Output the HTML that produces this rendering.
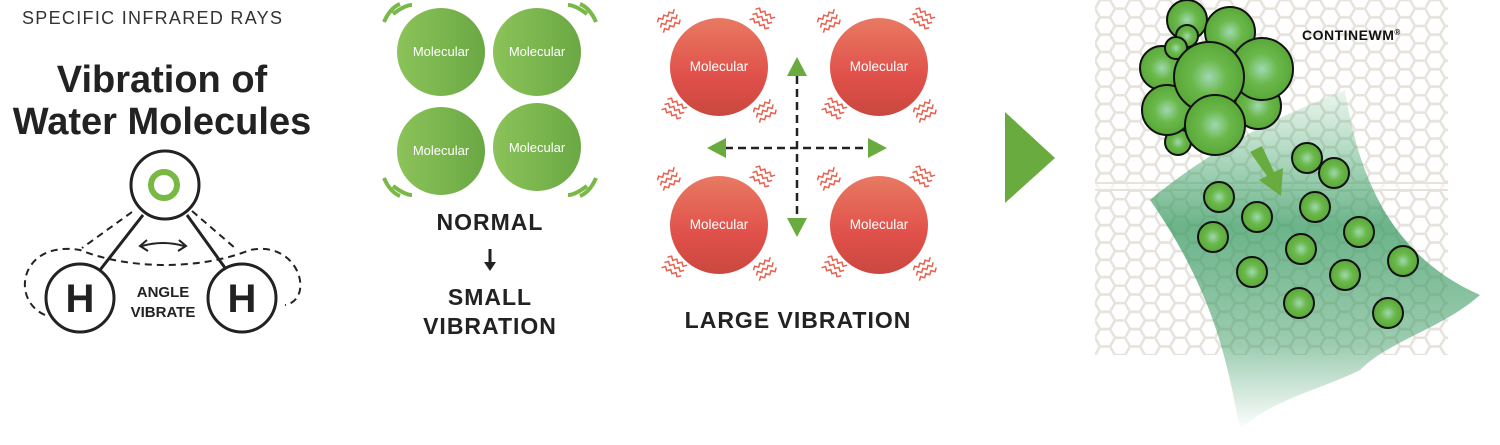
<!DOCTYPE html>
<html><head><meta charset="utf-8"><style>
html,body{margin:0;padding:0;background:#fff;}
svg{display:block;font-family:"Liberation Sans",sans-serif;}
</style></head><body>
<svg width="1500" height="445" viewBox="0 0 1500 445" xmlns="http://www.w3.org/2000/svg">
<defs>
<pattern id="hex" width="30" height="17.32" patternUnits="userSpaceOnUse" x="1095" y="0">
<g fill="none" stroke="#e6e3dc" stroke-width="2.6">
<path d="M0,8.66 L5,0 L15,0 L20,8.66 L15,17.32 L5,17.32 Z"/>
<path d="M20,8.66 L30,8.66"/>
<path d="M15,0 L20,-8.66 M15,17.32 L20,26"/>
</g>
</pattern>
<linearGradient id="gg" x1="0" x2="1" y1="0" y2="0"><stop offset="0" stop-color="#8cc35a"/><stop offset="1" stop-color="#6aa843"/></linearGradient>
<linearGradient id="rg" x1="0" x2="0" y1="0" y2="1"><stop offset="0" stop-color="#e87a62"/><stop offset="0.6" stop-color="#e0504a"/><stop offset="1" stop-color="#c9483f"/></linearGradient>
<radialGradient id="bg" cx="0.5" cy="0.5" r="0.5"><stop offset="0" stop-color="#9fd8b0"/><stop offset="0.5" stop-color="#6ab84a"/><stop offset="1" stop-color="#58a838"/></radialGradient>
<linearGradient id="sw" x1="0" y1="0" x2="0" y2="1"><stop offset="0" stop-color="#3da86a" stop-opacity="0.1"/><stop offset="0.4" stop-color="#3a9a62" stop-opacity="0.75"/><stop offset="0.75" stop-color="#3a9a62" stop-opacity="0.5"/><stop offset="1" stop-color="#3a9a62" stop-opacity="0"/></linearGradient>
<g id="zz" fill="none" stroke="#e8604e" stroke-width="1.5">
<path d="M-11,-6 l3,-3 l3,3 l3,-3 l3,3 l3,-3 l3,3 l3,-3"/>
<path d="M-11,0 l3,-3 l3,3 l3,-3 l3,3 l3,-3 l3,3 l3,-3"/>
<path d="M-11,6 l3,-3 l3,3 l3,-3 l3,3 l3,-3 l3,3 l3,-3"/>
</g>
</defs>

<!-- LEFT -->
<text x="22" y="24" font-size="18" fill="#333" letter-spacing="1.3">SPECIFIC INFRARED RAYS</text>
<text x="162" y="92" font-size="38" font-weight="bold" fill="#222" text-anchor="middle">Vibration of</text>
<text x="162" y="134" font-size="38" font-weight="bold" fill="#222" text-anchor="middle">Water Molecules</text>
<g fill="none" stroke="#222" stroke-width="2" stroke-dasharray="7,5">
<path d="M132,212 L82,248"/><path d="M192,211 L235,248"/>
<path d="M45,315 C10,300 20,240 80,250 C130,270 200,270 250,250 C300,240 315,300 285,305"/>
</g>
<line x1="143" y1="215" x2="100" y2="270" stroke="#222" stroke-width="3"/>
<line x1="187" y1="215" x2="228" y2="272" stroke="#222" stroke-width="3"/>
<path d="M142,246 Q163,240 184,246" fill="none" stroke="#222" stroke-width="2"/>
<path d="M147,240 L140,246 L148,251 M179,240 L186,246 L178,251" fill="none" stroke="#222" stroke-width="2"/>
<circle cx="165" cy="185" r="34" fill="#fff" stroke="#222" stroke-width="3"/>
<circle cx="164" cy="185" r="13" fill="none" stroke="#78b843" stroke-width="6"/>
<circle cx="80" cy="298" r="34" fill="#fff" stroke="#222" stroke-width="3"/>
<circle cx="242" cy="298" r="34" fill="#fff" stroke="#222" stroke-width="3"/>
<text x="80" y="312" font-size="40" font-weight="bold" fill="#222" text-anchor="middle">H</text>
<text x="242" y="312" font-size="40" font-weight="bold" fill="#222" text-anchor="middle">H</text>
<text x="163" y="297" font-size="15" font-weight="bold" fill="#222" text-anchor="middle">ANGLE</text>
<text x="163" y="317" font-size="15" font-weight="bold" fill="#222" text-anchor="middle">VIBRATE</text>

<!-- GREEN -->
<g fill="url(#gg)">
<circle cx="441" cy="52" r="44"/><circle cx="537" cy="52" r="44"/>
<circle cx="441" cy="151" r="44"/><circle cx="537" cy="147" r="44"/>
</g>
<g fill="#fff" font-size="13" text-anchor="middle">
<text x="441" y="56">Molecular</text><text x="537" y="56">Molecular</text>
<text x="441" y="155">Molecular</text><text x="537" y="152">Molecular</text>
</g>
<g fill="none" stroke="#7ab848" stroke-width="4">
<path d="M384,22 Q390,8 400,4"/><path d="M393,14 Q405,5 412,5"/>
<path d="M596,22 Q590,8 580,4"/><path d="M587,14 Q575,5 568,5"/>
<path d="M384,178 Q390,192 400,196"/><path d="M393,186 Q405,195 412,195"/>
<path d="M596,178 Q590,192 580,196"/><path d="M587,186 Q575,195 568,195"/>
</g>
<g font-size="23" font-weight="bold" fill="#222" text-anchor="middle" letter-spacing="1">
<text x="490" y="230">NORMAL</text>
<text x="490" y="305">SMALL</text>
<text x="490" y="334">VIBRATION</text>
<text x="798" y="328">LARGE VIBRATION</text>
</g>
<line x1="490" y1="249" x2="490" y2="263" stroke="#222" stroke-width="3"/>
<path d="M484,262 L496,262 L490,271Z" fill="#222"/>

<!-- RED -->
<g fill="url(#rg)">
<circle cx="719" cy="67" r="49"/><circle cx="879" cy="67" r="49"/>
<circle cx="719" cy="225" r="49"/><circle cx="879" cy="225" r="49"/>
</g>
<g fill="#fff" font-size="13.5" text-anchor="middle">
<text x="719" y="71">Molecular</text><text x="879" y="71">Molecular</text>
<text x="719" y="229">Molecular</text><text x="879" y="229">Molecular</text>
</g>
<use href="#zz" transform="translate(670,22) rotate(-30)"/>
<use href="#zz" transform="translate(762,20) rotate(30)"/>
<use href="#zz" transform="translate(674,110) rotate(30)"/>
<use href="#zz" transform="translate(766,112) rotate(-30)"/>
<use href="#zz" transform="translate(830,22) rotate(-30)"/>
<use href="#zz" transform="translate(922,20) rotate(30)"/>
<use href="#zz" transform="translate(834,110) rotate(30)"/>
<use href="#zz" transform="translate(926,112) rotate(-30)"/>
<use href="#zz" transform="translate(670,180) rotate(-30)"/>
<use href="#zz" transform="translate(762,178) rotate(30)"/>
<use href="#zz" transform="translate(674,268) rotate(30)"/>
<use href="#zz" transform="translate(766,270) rotate(-30)"/>
<use href="#zz" transform="translate(830,180) rotate(-30)"/>
<use href="#zz" transform="translate(922,178) rotate(30)"/>
<use href="#zz" transform="translate(834,268) rotate(30)"/>
<use href="#zz" transform="translate(926,270) rotate(-30)"/>
<g stroke="#222" stroke-width="2.5" stroke-dasharray="8,5">
<line x1="797" y1="76" x2="797" y2="220"/>
<line x1="725" y1="148" x2="870" y2="148"/>
</g>
<g fill="#6aab40">
<path d="M787,76 L807,76 L797,57Z"/><path d="M787,218 L807,218 L797,237Z"/>
<path d="M726,138 L726,158 L707,148Z"/><path d="M868,138 L868,158 L887,148Z"/>
</g>

<!-- BIG ARROW -->
<path d="M1005,112 L1055,158 L1005,203Z" fill="#6aab40"/>

<!-- RIGHT PANEL -->
<rect x="1095" y="0" width="353" height="355" fill="url(#hex)"/>
<rect x="1095" y="182" width="353" height="9" fill="#fff" opacity="0.6"/>
<line x1="1095" y1="183" x2="1448" y2="183" stroke="#e6e3dc" stroke-width="2"/>
<line x1="1095" y1="190" x2="1448" y2="190" stroke="#e6e3dc" stroke-width="2"/>
<path d="M1150,200 C1210,150 1270,120 1345,90 C1360,190 1400,260 1480,295 C1440,330 1390,340 1360,370 C1320,390 1270,400 1240,430 C1230,380 1220,300 1150,200Z" fill="url(#sw)"/>
<g stroke="#111" stroke-width="2" fill="url(#bg)">
<circle cx="1187" cy="20" r="20"/>
<circle cx="1230" cy="32" r="25"/>
<circle cx="1178" cy="142" r="13"/>
<circle cx="1162" cy="68" r="22"/>
<circle cx="1187" cy="36" r="11"/>
<circle cx="1176" cy="48" r="11"/>
<circle cx="1167" cy="110" r="25"/>
<circle cx="1258" cy="106" r="23"/>
<circle cx="1262" cy="69" r="31"/>
<circle cx="1209" cy="77" r="35"/>
<circle cx="1215" cy="125" r="30"/>
</g>
<path d="M1250,152 L1262,146 L1274,172 L1283,168 L1281,196 L1259,180 L1267,176Z" fill="#6aab40"/>
<g stroke="#111" stroke-width="2" fill="url(#bg)">
<circle cx="1307" cy="158" r="15"/><circle cx="1334" cy="173" r="15"/>
<circle cx="1219" cy="197" r="15"/><circle cx="1257" cy="217" r="15"/>
<circle cx="1315" cy="207" r="15"/><circle cx="1213" cy="237" r="15"/>
<circle cx="1359" cy="232" r="15"/><circle cx="1301" cy="249" r="15"/>
<circle cx="1403" cy="261" r="15"/><circle cx="1252" cy="272" r="15"/>
<circle cx="1345" cy="275" r="15"/><circle cx="1299" cy="303" r="15"/>
<circle cx="1388" cy="313" r="15"/>
</g>
<text x="1302" y="40" font-size="14" font-weight="bold" fill="#111" letter-spacing="0.5">CONTINEWM<tspan font-size="8" dy="-5">®</tspan></text>
</svg>
</body></html>
